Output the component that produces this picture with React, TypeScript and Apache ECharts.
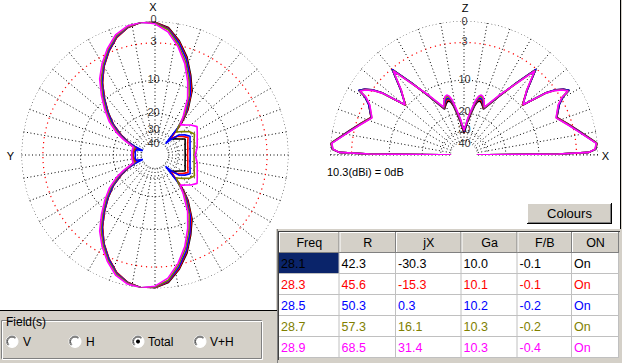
import React, { useEffect, useRef } from 'react';
import * as echarts from 'echarts';

const FONT = '"Liberation Sans", Arial, sans-serif';

// ---- table values ----
const TABLE_HEADERS = ['Freq', 'R', 'jX', 'Ga', 'F/B', 'ON'];
const FREQS = [28.1, 28.3, 28.5, 28.7, 28.9];
const R_VALUES = [42.3, 45.6, 50.3, 57.3, 68.5];
const JX_VALUES = [-30.3, -15.3, 0.3, 16.1, 31.4];
const GA_VALUES = [10.0, 10.1, 10.2, 10.3, 10.3];
const FB_VALUES = [-0.1, -0.1, -0.2, -0.2, -0.4];
const ON_VALUES = ['On', 'On', 'On', 'On', 'On'];
const SERIES_COLORS = ['#000000', '#FF0000', '#0000FF', '#808000', '#FF00FF'];

// ---- scale rings (dB below max) ----
const RING_DB = [0, -3, -10, -20, -30, -40];
const RING_LABELS = ['0', '3', '10', '20', '30', '40'];
const REF_TEXT = '10.3(dBi) = 0dB';
const FIELD_OPTIONS = ['V', 'H', 'Total', 'V+H'];
const FIELD_SELECTED = 2;

// ---- horizontal (azimuth) pattern: compass angle (0 = X, clockwise), half pattern -90..90, mirrored about X ----
const AZ_ANGLES = [-90, -82, -74, -70, -67, -64, -60, -54, -48, -42, -36, -30, -24, -18, -12, -6, 0, 6, 12, 18, 24, 30, 36, 38, 40, 43, 46, 50, 56, 62, 70, 80, 90];
const AZ_28_1 = [-31, -31.3, -32, -36, -30, -25.8, -21.5, -16.5, -13.0, -9.8, -6.9, -4.6, -2.8, -1.3, -0.4, 0, -0.1, -0.7, -2.3, -4.4, -7.2, -10.1, -14.8, -17.5, -20.5, -31, -30, -28.5, -26.4, -23.4, -24.5, -25.3, -25.5];
const AZ_28_3 = [-31, -31.3, -32, -34, -29.5, -25.5, -21.4, -16.4, -12.9, -9.8, -6.9, -4.6, -2.8, -1.3, -0.4, 0, -0.1, -0.8, -2.4, -4.6, -7.4, -10.4, -15.2, -18, -21, -30, -29, -26.4, -24, -21.8, -23.1, -23.8, -24.2];
const AZ_28_5 = [-33, -32.5, -33, -40.5, -31, -25, -21, -16.2, -12.7, -9.6, -6.7, -4.5, -2.7, -1.2, -0.35, 0, -0.15, -0.9, -2.6, -4.8, -7.6, -10.9, -15.8, -19, -23, -37, -30, -25, -22.5, -20.8, -21.9, -22.7, -22.9];
const AZ_28_7 = [-30.5, -30.5, -30.5, -31.5, -28, -24, -20, -15.5, -12.2, -9.2, -6.4, -4.3, -2.5, -1.1, -0.3, 0, -0.2, -1.0, -2.9, -5.2, -8.1, -11.5, -16.5, -19.5, -22.5, -25, -23.7, -22.3, -20, -18.8, -20, -20.8, -21.1];
const AZ_28_9 = [-30, -30, -30, -30.5, -27, -23, -19, -14.8, -11.7, -8.8, -6.0, -4.0, -2.3, -0.9, -0.2, 0, -0.3, -1.3, -3.2, -5.6, -8.7, -12.3, -17.5, -19.5, -21, -20.2, -19.4, -18, -16.6, -17.6, -18.7, -19.5, -20.6];

// ---- vertical (elevation) pattern: elevation angle 0..90, mirrored to 180 ----
const EL_ANGLES = [0, 0.6, 1.2, 2.5, 5, 12, 17, 22, 28, 30.5, 31.6, 33.5, 35.4, 37.2, 40.4, 45.8, 50, 54, 59, 67, 70, 72, 74, 76, 78, 80, 84, 88, 90];
const EL_28_1 = [-99, -6, -1.2, -0.3, 0, -2.3, -3.7, -5.0, -3.7, -2.6, -1.4, -2.0, -3.0, -4.5, -9.6, -6.7, -3.1, -7.0, -11.5, -17.0, -15.8, -15.2, -14.9, -15.4, -17.0, -19.5, -24, -29, -31];
const EL_28_3 = [-99, -6, -1.2, -0.3, -0.05, -2.35, -3.75, -5.0, -3.75, -2.65, -1.45, -2.05, -3.05, -4.55, -9.6, -6.75, -3.15, -7.05, -11.4, -16.8, -15.4, -14.7, -14.4, -14.9, -16.5, -19, -23.5, -28.5, -30.5];
const EL_28_5 = [-99, -6, -1.2, -0.3, -0.1, -2.4, -3.8, -5.05, -3.7, -2.6, -1.4, -2.0, -3.0, -4.5, -9.5, -6.7, -3.1, -7.0, -11.3, -16.6, -15.0, -14.3, -14.0, -14.5, -16.0, -18.5, -23, -28, -30];
const EL_28_7 = [-99, -6, -1.2, -0.35, -0.1, -2.45, -3.85, -5.1, -3.85, -2.75, -1.55, -2.15, -3.15, -4.65, -9.5, -6.85, -3.3, -7.2, -11.2, -16.4, -14.6, -13.8, -13.5, -14.0, -15.5, -18, -22.5, -27.5, -29.5];
const EL_28_9 = [-99, -6, -1.2, -0.4, -0.15, -2.5, -3.9, -5.15, -3.9, -2.8, -1.6, -2.2, -3.2, -4.7, -9.4, -6.9, -3.4, -7.3, -11.0, -16.2, -14.2, -13.4, -13.1, -13.6, -15.0, -17.5, -22, -27, -29];

const AZ_SERIES = [AZ_28_1, AZ_28_3, AZ_28_5, AZ_28_7, AZ_28_9];
const EL_SERIES = [EL_28_1, EL_28_3, EL_28_5, EL_28_7, EL_28_9];

// ARRL log scale: relative radius for a dB value
const toR = (db: number) => Math.pow(0.89, -db / 2);

const L_CENTER = [155, 155];
const L_RADIUS = 133.5;
const R_CENTER = [464, 155];
const R_RADIUS = 134;
const R_MIN = toR(Math.min(...RING_DB));
// vertical nudges of the ring labels (layout only)
const L_LABEL_DY = [-2.5, -2, -1.5, -1, -3, 1];
const R_LABEL_DY = [-0.5, -1, -1, -2, -2.5, 1];

function azLoop(db: number[]) {
  const top = AZ_ANGLES.map((a, i) => [toR(db[i]), (a + 360) % 360]);
  const bottom = AZ_ANGLES.map((a, i) => [toR(db[i]), 180 - a]).reverse();
  return [...top, ...bottom];
}
function elLoop(db: number[]) {
  const right = EL_ANGLES.map((a, i) => [toR(db[i]), a]);
  const left = EL_ANGLES.map((a, i) => [toR(db[i]), 180 - a]).reverse();
  return [...right, ...left];
}
function ringData(db: number, maxAngle: number) {
  const out: number[][] = [];
  for (let a = 0; a <= maxAngle; a += 2) out.push([toR(db), a]);
  return out;
}

const DOT: number[] = [1, 2.5];

function txt(text: string, x: number, y: number, o: any = {}) {
  const align = o.align ?? 'left';
  return {
    type: 'text', x, y, silent: true, z: 20,
    style: {
      text, fill: o.fill ?? '#000', font: `${o.size ?? 12}px ${FONT}`,
      align, textAlign: align, verticalAlign: 'middle', textVerticalAlign: 'middle',
    },
  };
}
function rect(x: number, y: number, w: number, h: number, fill: string, stroke?: string) {
  return { type: 'rect', silent: true, z: 10, shape: { x, y, width: w, height: h }, style: { fill, stroke: stroke ?? null, lineWidth: 1 } };
}
function ln(x1: number, y1: number, x2: number, y2: number, stroke: string) {
  return { type: 'line', silent: true, z: 12, shape: { x1, y1, x2, y2 }, style: { stroke, lineWidth: 1 } };
}

function buildGraphics() {
  const g: any[] = [];
  const GRAY = '#D4D0C8';
  // axis names
  g.push(txt('X', L_CENTER[0] - 2, 7, { align: 'center', size: 11 }));
  g.push(txt('Y', 10.5, 156, { align: 'center', size: 11 }));
  g.push(txt('Z', R_CENTER[0] + 1, 7.5, { align: 'center', size: 11 }));
  g.push(txt('X', 605.5, 156, { align: 'center', size: 11 }));
  g.push(txt(REF_TEXT, 327, 172, { size: 11 }));

  // right frame
  g.push(rect(621, 0, 1, 229, GRAY));
  g.push(ln(620.5, 0, 620.5, 229, '#000'));

  // Colours button
  g.push(rect(527, 203, 85, 21, GRAY));
  g.push(ln(527, 203.5, 611, 203.5, '#FFFFFF'));
  g.push(ln(527.5, 203, 527.5, 223, '#FFFFFF'));
  g.push(ln(528, 222.5, 611, 222.5, '#808080'));
  g.push(ln(610.5, 204, 610.5, 223, '#808080'));
  g.push(ln(527, 223.5, 612, 223.5, '#000'));
  g.push(ln(611.5, 203, 611.5, 224, '#000'));
  g.push(txt('Colours', 569.5, 213.5, { align: 'center', size: 13 }));

  // bottom-left panel with Field(s) group
  g.push(rect(0, 311, 277, 52, GRAY));
  g.push(ln(0, 310.5, 277, 310.5, '#000'));
  g.push({ type: 'rect', silent: true, z: 11, shape: { x: 1.5, y: 320.5, width: 260, height: 38 }, style: { fill: null, stroke: '#808080', lineWidth: 1 } });
  g.push({ type: 'rect', silent: true, z: 11, shape: { x: 2.5, y: 321.5, width: 260, height: 38 }, style: { fill: null, stroke: '#FFFFFF', lineWidth: 1 } });
  g.push(rect(5, 315, 44, 13, GRAY));
  g.push(txt('Field(s)', 6, 321.5, { size: 12 }));
  const radioX = [12, 75, 138, 200];
  const labelX = [23, 86, 148, 210];
  FIELD_OPTIONS.forEach((name, i) => {
    const cx = radioX[i], cy = 341.5;
    g.push({ type: 'circle', silent: true, z: 12, shape: { cx, cy, r: 6 }, style: { fill: '#FFFFFF', stroke: '#FFFFFF' } });
    g.push({ type: 'arc', silent: true, z: 13, shape: { cx, cy, r: 5.5, startAngle: Math.PI * 0.75, endAngle: Math.PI * 1.75, clockwise: true }, style: { stroke: '#808080', fill: null, lineWidth: 1 } });
    g.push({ type: 'arc', silent: true, z: 13, shape: { cx, cy, r: 4.5, startAngle: Math.PI * 0.75, endAngle: Math.PI * 1.75, clockwise: true }, style: { stroke: '#404040', fill: null, lineWidth: 1 } });
    if (i === FIELD_SELECTED) g.push({ type: 'circle', silent: true, z: 14, shape: { cx, cy, r: 2 }, style: { fill: '#000' } });
    g.push(txt(name, labelX[i], cy + 0.5, { size: 12 }));
  });

  // table
  g.push(rect(276, 229, 346, 134, GRAY));
  const COLS = [279, 339.5, 396, 461.5, 517.5, 572, 619];
  const HEAD_TOP = 232, HEAD_H = 21, ROW_H = 21;
  const bodyTop = HEAD_TOP + HEAD_H;
  const nRows = FREQS.length;
  g.push(rect(COLS[0], bodyTop, COLS[6] - COLS[0], ROW_H * nRows, '#FFFFFF'));
  TABLE_HEADERS.forEach((h, j) => {
    const x0 = COLS[j], x1 = COLS[j + 1];
    g.push(rect(x0, HEAD_TOP, x1 - x0, HEAD_H, GRAY));
    g.push(ln(x0, HEAD_TOP + 0.5, x1 - 1, HEAD_TOP + 0.5, '#FFFFFF'));
    g.push(ln(x0 + 0.5, HEAD_TOP, x0 + 0.5, HEAD_TOP + HEAD_H - 1, '#FFFFFF'));
    g.push(ln(x1 - 0.5, HEAD_TOP, x1 - 0.5, HEAD_TOP + HEAD_H, '#808080'));
    g.push(ln(x0, HEAD_TOP + HEAD_H - 0.5, x1, HEAD_TOP + HEAD_H - 0.5, '#808080'));
    g.push(txt(h, (x0 + x1) / 2, HEAD_TOP + HEAD_H / 2 + 0.5, { align: 'center', size: 12.5 }));
  });
  g.push(rect(COLS[0], bodyTop, COLS[1] - COLS[0] - 0.5, ROW_H - 0.5, '#0A246A'));
  for (let j = 1; j < COLS.length; j++) g.push(ln(COLS[j] - 0.5, bodyTop, COLS[j] - 0.5, bodyTop + ROW_H * nRows, '#C0C0C0'));
  for (let i = 1; i <= nRows; i++) g.push(ln(COLS[0], bodyTop + ROW_H * i - 0.5, COLS[6], bodyTop + ROW_H * i - 0.5, '#C0C0C0'));
  g.push(ln(278.5, 231, 278.5, 360, '#404040'));
  g.push(ln(278, 231.5, 620, 231.5, '#404040'));
  g.push(ln(277.5, 229, 277.5, 363, '#808080'));
  FREQS.forEach((f, i) => {
    const cells = [f.toFixed(1), R_VALUES[i].toFixed(1), JX_VALUES[i].toFixed(1), GA_VALUES[i].toFixed(1), FB_VALUES[i].toFixed(1), ON_VALUES[i]];
    const y = bodyTop + ROW_H * i + ROW_H / 2;
    cells.forEach((c, j) => {
      g.push(txt(c, COLS[j] + 2, y, { size: 12.5, fill: SERIES_COLORS[i] }));
    });
  });
  return g;
}

function buildOption() {
  const axisCommon = {
    axisLine: { show: false }, axisTick: { show: false }, axisLabel: { show: false },
  };
  const series: any[] = [];
  // rings
  RING_DB.forEach((db) => {
    const isRed = db === -3;
    const ls = { color: isRed ? '#FF0000' : '#000000', width: isRed ? 1.2 : 1, type: isRed ? [1.2, 3.8] : DOT };
    series.push({ type: 'line', coordinateSystem: 'polar', polarIndex: 0, data: ringData(db, 360), symbol: 'none', showSymbol: false, silent: true, clip: false, z: 1, lineStyle: ls });
    series.push({ type: 'line', coordinateSystem: 'polar', polarIndex: 1, data: ringData(db, 180), symbol: 'none', showSymbol: false, silent: true, clip: false, z: 1, lineStyle: ls });
  });
  // baseline of elevation plot
  series.push({ type: 'line', coordinateSystem: 'polar', polarIndex: 1, data: [[1, 0], [1, 180]], symbol: 'none', showSymbol: false, silent: true, clip: false, z: 1, lineStyle: { color: '#000', width: 1, type: DOT } });
  // ring labels
  const labelSeries = (polarIndex: number, angle: number, dx: number, dys: number[]) => ({
    type: 'scatter', coordinateSystem: 'polar', polarIndex, silent: true, z: 6, symbolSize: 1,
    itemStyle: { color: 'rgba(0,0,0,0)' },
    data: RING_DB.map((db, i) => ({ value: [toR(db), angle], label: { offset: [dx, dys[i]] } })),
    label: { show: true, position: 'inside', formatter: (p: any) => RING_LABELS[p.dataIndex], color: '#000', fontSize: 11, fontFamily: FONT },
  });
  series.push(labelSeries(0, 0, -1.5, L_LABEL_DY));
  series.push(labelSeries(1, 90, 0.5, R_LABEL_DY));
  // patterns
  AZ_SERIES.forEach((db, k) => {
    series.push({ type: 'line', name: FREQS[k].toFixed(1), coordinateSystem: 'polar', polarIndex: 0, data: azLoop(db), symbol: 'none', showSymbol: false, silent: true, clip: false, z: 3 + k, lineStyle: { color: SERIES_COLORS[k], width: 1.6 } });
  });
  EL_SERIES.forEach((db, k) => {
    series.push({ type: 'line', name: FREQS[k].toFixed(1), coordinateSystem: 'polar', polarIndex: 1, data: elLoop(db), symbol: 'none', showSymbol: false, silent: true, clip: false, z: 3 + k, lineStyle: { color: SERIES_COLORS[k], width: 1.6 } });
  });

  return {
    animation: false,
    backgroundColor: '#FFFFFF',
    polar: [
      { center: L_CENTER, radius: [L_RADIUS * R_MIN, L_RADIUS] },
      { center: R_CENTER, radius: [R_RADIUS * R_MIN, R_RADIUS] },
    ],
    angleAxis: [
      { polarIndex: 0, type: 'value', min: 0, max: 360, interval: 10, startAngle: 90, clockwise: true, ...axisCommon, splitLine: { show: true, lineStyle: { color: '#000', width: 1, type: DOT } } },
      { polarIndex: 1, type: 'value', min: 0, max: 180, interval: 10, startAngle: 0, endAngle: 180, clockwise: false, ...axisCommon, splitLine: { show: true, lineStyle: { color: '#000', width: 1, type: DOT } } },
    ],
    radiusAxis: [
      { polarIndex: 0, type: 'value', min: R_MIN, max: 1, ...axisCommon, splitLine: { show: false } },
      { polarIndex: 1, type: 'value', min: R_MIN, max: 1, ...axisCommon, splitLine: { show: false } },
    ],
    graphic: { elements: buildGraphics() },
    series,
  };
}

export default function App() {
  const ref = useRef<HTMLDivElement>(null);
  useEffect(() => {
    if (!ref.current) return;
    const chart = echarts.init(ref.current, null, { renderer: 'svg', width: 622, height: 363 });
    chart.setOption(buildOption() as any);
    return () => chart.dispose();
  }, []);
  return <div ref={ref} style={{ position: 'fixed', left: 0, top: 0, width: 622, height: 363, background: '#fff' }} />;
}
